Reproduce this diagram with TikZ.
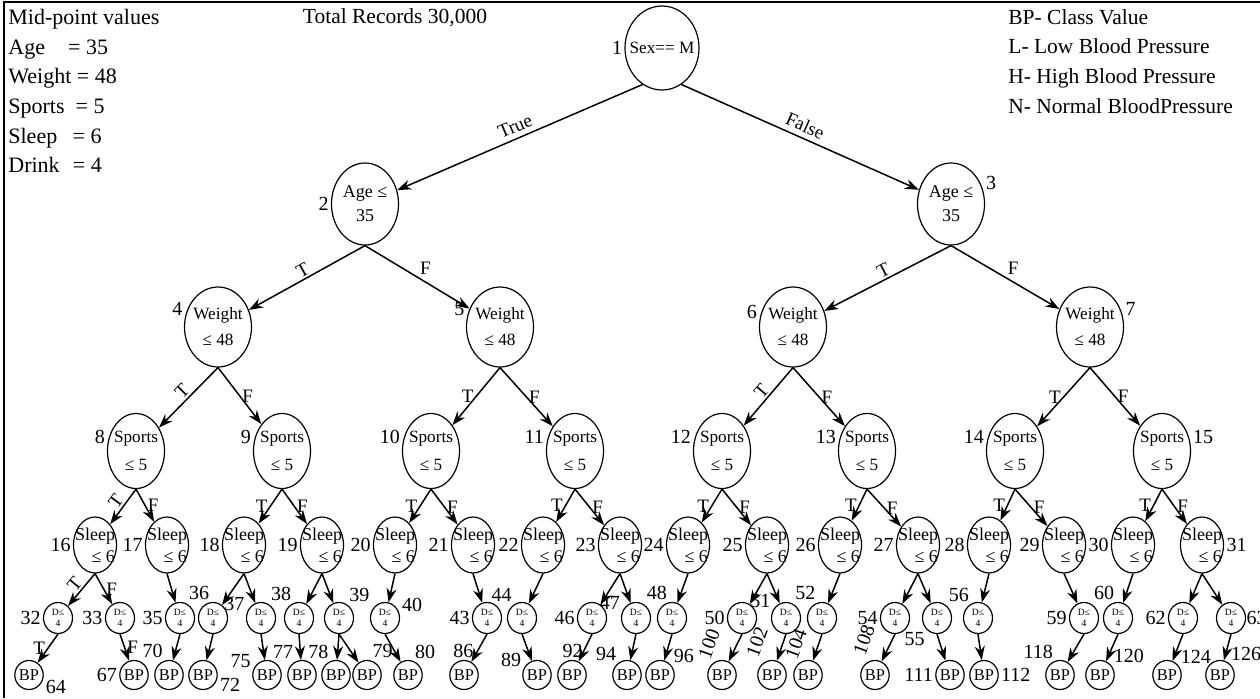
\documentclass[tikz,border=0pt]{standalone}
\usepackage{fontspec}
\setmainfont{Liberation Serif}
\usetikzlibrary{arrows.meta,shapes.geometric}
\tikzset{
  tnode/.style={draw,ellipse,line width=0.6pt,inner sep=0pt,align=center},
  rootnode/.style={tnode,minimum width=37pt,minimum height=42pt,inner xsep=-4pt,font=\fontsize{8.6}{10}\selectfont},
  agenode/.style={tnode,minimum width=33.5pt,minimum height=41pt,font=\fontsize{9}{12}\selectfont},
  wnode/.style={tnode,minimum width=33.5pt,minimum height=40pt,inner xsep=-1.5pt,font=\fontsize{8.6}{13}\selectfont},
  spnode/.style={tnode,minimum width=28.5pt,minimum height=37.5pt,inner xsep=-1.5pt,font=\fontsize{8.6}{14}\selectfont},
  slnode/.style={tnode,align=right,minimum width=21.5pt,minimum height=28pt,inner xsep=-3pt,inner ysep=-0.5pt,font=\fontsize{9}{11}\selectfont},
  dnode/.style={tnode,minimum width=14.5pt,minimum height=15.5pt,font=\fontsize{4.8}{5.5}\selectfont},
  bpnode/.style={tnode,minimum width=14pt,minimum height=14.5pt,font=\fontsize{8.2}{9}\selectfont},
  num/.style={font=\fontsize{10}{12}\selectfont,inner sep=1pt},
  lbl/.style={font=\fontsize{9.5}{11}\selectfont,inner sep=1pt},
  edge/.style={-{Stealth[length=7pt,width=5pt]},line width=0.75pt},
  legend/.style={font=\fontsize{11}{14.8}\selectfont,align=left,inner sep=0pt},
}
\begin{document}
\begin{tikzpicture}[x=0.5pt,y=-0.5pt]
\useasboundingbox (0,0) rectangle (1260,698);
\draw[line width=1pt] (4,698) -- (4,2) -- (1260,2);
\node[legend,anchor=north west] (mid) at (8,9) {Mid-point values\\Age\hspace{1.05em}= 35\\Weight = 48\\Sports\hspace{0.5em}= 5\\Sleep\hspace{0.7em}= 6\\Drink\hspace{0.6em}= 4};
\node[legend,font=\fontsize{10.75}{14.8}\selectfont] (total) at (395,18) {Total Records 30,000};
\node[legend,font=\fontsize{10.75}{14.8}\selectfont,anchor=north west] (key) at (1008,9) {BP- Class Value\\L- Low Blood Pressure\\H- High Blood Pressure\\N- Normal BloodPressure};

\node[rootnode,label={[num]left:1}] (n1) at (662,48) {Sex== M};
\node[agenode,label={[num]left:2}] (n2) at (365,204) {Age ≤\\35};
\node[agenode,label={[num]20:3}] (n3) at (951,204) {Age ≤\\35};
\foreach \n/\x/\a in {4/218/165,5/500/165,6/793/170,7/1090/15}
  \node[wnode,label={[num]\a:\n}] (n\n) at (\x,327) {Weight\\≤ 48};
\foreach \n/\x/\a in {8/136/170,9/282/170,10/431/170,11/575/170,12/722/170,13/867/170,14/1015/170,15/1162/10}
  \node[spnode,label={[num]\a:\n}] (n\n) at (\x,451) {Sports\\≤ 5};
\foreach \n/\x/\a in {16/95/left,17/167/left,18/244/left,19/322/left,20/395/left,21/473/left,22/543/left,23/620/left,
  24/688/left,25/767/left,26/840/left,27/918/left,28/989/left,29/1064/left,30/1133/left,31/1202/right}
  \node[slnode,label={[num]\a:\n}] (n\n) at (\x,545) {Sleep\\≤ 6};
\foreach \n/\x/\a in {32/58/left,33/120/left,35/180/left,36/213/95,37/261/160,38/299/110,39/339/60,40/385/15,
  43/487/left,44/522/120,46/592/left,47/636/155,48/672/100,50/742/left,51/786/150,52/822/105,54/895/left,
  55/937/-130,56/978/115,59/1084/left,60/1118/95,62/1183/left}
  \node[dnode,label={[num]\a:\n}] (n\n) at (\x,618) {D≤\\4};
\node[dnode,label={[num,inner sep=0pt]right:63}] (n63) at (1231,618) {D≤\\4};
\foreach \n/\x/\a in {64/29/-10,67/134/left,70/169/105,72/203/-5,75/267/160,77/302/115,78/336/110,79/367/78,
  80/408/72,86/464/92,89/537/155,92/572/88,94/627/125,96/660/40,111/950/left,112/984/right,118/1060/108,
  120/1100/40,124/1167/40,126/1220/55}
  \node[bpnode,label={[num]\a:\n}] (n\n) at (\x,675) {BP};
\foreach \n/\x in {100/722,102/772,104/808,108/875}
  \node[bpnode] (n\n) at (\x,675) {BP};
\node[num,rotate=70] (r100) at (709,644) {100};
\node[num,rotate=70] (r102) at (757,642) {102};
\node[num,rotate=70] (r104) at (796,644) {104};
\node[num,rotate=70] (r108) at (864,640) {108};

\draw[edge] (n1.-118) -- node[lbl,sloped,above,inner sep=2.5pt]{True} (n2);
\draw[edge] (n1.-62) -- node[lbl,sloped,above,inner sep=2.5pt]{False} (n3);
\draw[edge] (n2.south) -- node[lbl,sloped,above]{T} (n4);
\draw[edge] (n2.south) -- node[lbl,above right]{F} (n5);
\draw[edge] (n3.south) -- node[lbl,sloped,above]{T} (n6);
\draw[edge] (n3.south) -- node[lbl,above right]{F} (n7);
\draw[edge] (n4.south) -- node[lbl,sloped,above]{T} (n8);
\draw[edge] (n4.south) -- node[lbl,right]{F} (n9);
\draw[edge] (n5.south) -- node[lbl,left]{T} (n10);
\draw[edge] (n5.south) -- node[lbl,right]{F} (n11);
\draw[edge] (n6.south) -- node[lbl,sloped,above]{T} (n12);
\draw[edge] (n6.south) -- node[lbl,right]{F} (n13);
\draw[edge] (n7.south) -- node[lbl,left]{T} (n14);
\draw[edge] (n7.south) -- node[lbl,right]{F} (n15);
\draw[edge] (n8.south) -- node[lbl,sloped,above]{T} (n16);
\draw[edge] (n8.south) -- node[lbl,right]{F} (n17);
\foreach \p/\l/\r in {9/18/19,10/20/21,11/22/23,12/24/25,13/26/27,14/28/29,15/30/31}{
  \draw[edge] (n\p.south) -- node[lbl,left]{T} (n\l);
  \draw[edge] (n\p.south) -- node[lbl,right]{F} (n\r);
}
\draw[edge] (n16.south) -- node[lbl,sloped,above]{T} (n32);
\draw[edge] (n16.south) -- node[lbl,right]{F} (n33);
\draw[edge] (n32.south) -- node[lbl,left]{T} (n64);
\draw[edge] (n33.south) -- node[lbl,right]{F} (n67);
\foreach \a/\b in {17/35,18/36,18/37,19/38,19/39,20/40,21/43,22/44,23/46,23/47,24/48,25/50,25/51,26/52,
  27/54,27/55,28/56,29/59,30/60,31/62,31/63}
  \draw[edge] (n\a.south) -- (n\b);
\foreach \a/\b in {35/70,36/72,37/75,38/77,39/78,39/79,40/80,43/86,44/89,46/92,47/94,48/96,50/100,51/102,
  52/104,54/108,55/111,56/112,59/118,60/120,62/124,63/126}
  \draw[edge] (n\a.south) -- (n\b);
\end{tikzpicture}
\end{document}
